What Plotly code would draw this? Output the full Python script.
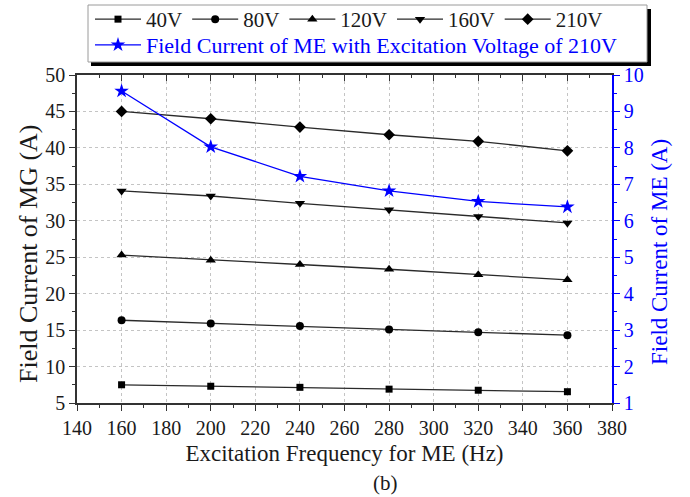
import plotly.graph_objects as go

# Excitation frequency of ME (Hz)
freq = [160, 200, 240, 280, 320, 360]

# Field current of MG (A) for each excitation voltage
mg_40v = [7.5, 7.3, 7.15, 6.9, 6.75, 6.55]
mg_80v = [16.35, 15.9, 15.55, 15.1, 14.7, 14.3]
mg_120v = [25.3, 24.6, 24.0, 23.35, 22.6, 21.9]
mg_160v = [34.1, 33.4, 32.4, 31.5, 30.6, 29.7]
mg_210v = [45.0, 44.0, 42.85, 41.8, 40.9, 39.6]

# Field current of ME (A) at 210 V excitation
me_210v = [9.56, 8.03, 7.22, 6.82, 6.53, 6.38]

series_names = ["40V", "80V", "120V", "160V", "210V"]
series_values = [mg_40v, mg_80v, mg_120v, mg_160v, mg_210v]
series_symbols = ["square", "circle", "triangle-up", "triangle-down", "diamond"]
series_sizes = [7, 8, 9, 9, 9]

FONT = "'Times New Roman', 'Liberation Serif', 'DejaVu Serif', serif"
BLUE = "#0000ff"
INK = "#1a1a1a"

W, H = 690, 497
ML, MR, MT, MB = 77, 78, 75, 94
PW, PH = W - ML - MR, H - MT - MB


def px(xpix):
    return (xpix - ML) / PW


def py(ypix):
    return 1 - (ypix - MT) / PH


fig = go.Figure()

for name, vals, sym, sz in zip(series_names, series_values, series_symbols, series_sizes):
    fig.add_trace(go.Scatter(
        x=freq, y=vals, name=name, mode="lines+markers",
        line=dict(color="#2a2a2a", width=1.3),
        marker=dict(symbol=sym, size=sz, color="black"),
        xaxis="x", yaxis="y", legend="legend",
    ))

fig.add_trace(go.Scatter(
    x=freq, y=me_210v, name="Field Current of ME with Excitation Voltage of 210V",
    mode="lines+markers",
    line=dict(color=BLUE, width=1.3),
    marker=dict(symbol="star", size=11, color=BLUE),
    xaxis="x", yaxis="y2", legend="legend2",
))

# invisible trace that keeps the top tick axis drawn
fig.add_trace(go.Scatter(x=[freq[0]], y=[mg_40v[0]], xaxis="x2", yaxis="y",
                         mode="markers", marker=dict(opacity=0),
                         showlegend=False, hoverinfo="skip"))

grid = dict(showgrid=True, gridcolor="#c4c4c4", griddash="dot", gridwidth=1)
tickfont = dict(family=FONT, size=20, color=INK)

legend_common = dict(
    orientation="h", xanchor="left", yanchor="top",
    bgcolor="rgba(0,0,0,0)", borderwidth=0, tracegroupgap=0,
)

fig.update_layout(
    width=W, height=H,
    margin=dict(l=ML, r=MR, t=MT, b=MB, autoexpand=False),
    paper_bgcolor="white", plot_bgcolor="white",
    font=dict(family=FONT, size=20, color=INK),
    showlegend=True,
    xaxis=dict(
        range=[140, 380], dtick=20, tick0=140,
        ticks="outside", ticklen=6, tickwidth=1.3, tickcolor="#333",
        minor=dict(ticks="outside", ticklen=3, dtick=10, tickcolor="#333", showgrid=False),
        showline=True, linecolor="#333", linewidth=1.5, mirror=True,
        zeroline=False, tickfont=tickfont,
        title=dict(text="Excitation Frequency for ME (Hz)", standoff=7,
                   font=dict(family=FONT, size=23, color=INK)),
        **grid,
    ),
    xaxis2=dict(
        range=[140, 380], dtick=20, tick0=140, overlaying="x", side="top", anchor="y",
        ticks="inside", ticklen=6, tickwidth=1.3, tickcolor="#333",
        minor=dict(ticks="inside", ticklen=3, dtick=10, tickcolor="#333"),
        showticklabels=False, showgrid=False, zeroline=False, showline=False,
    ),
    yaxis=dict(
        range=[5, 50], dtick=5, tick0=5,
        ticks="outside", ticklen=6, tickwidth=1.3, tickcolor="#333",
        minor=dict(ticks="outside", ticklen=3, dtick=2.5, tickcolor="#333", showgrid=False),
        showline=True, linecolor="#333", linewidth=1.5,
        zeroline=False, tickfont=tickfont,
        **grid,
    ),
    yaxis2=dict(
        range=[1, 10], dtick=1, tick0=1, overlaying="y", side="right", anchor="x",
        ticks="outside", ticklen=6, tickwidth=1.3, tickcolor=BLUE,
        minor=dict(ticks="outside", ticklen=3, dtick=0.5, tickcolor=BLUE),
        showline=True, linecolor=BLUE, linewidth=1.5,
        showgrid=False, zeroline=False,
        tickfont=dict(family=FONT, size=20, color=BLUE),
    ),
    legend=dict(x=px(90), y=py(-1), itemwidth=46,
                font=dict(family=FONT, size=21, color=INK), **legend_common),
    legend2=dict(x=px(90), y=py(24), itemwidth=46,
                 font=dict(family=FONT, size=22, color=BLUE), **legend_common),
    shapes=[
        # drop shadow and frame behind the legends
        dict(type="rect", xref="paper", yref="paper", layer="above",
             x0=px(91), x1=px(651), y0=py(66), y1=py(9),
             fillcolor="black", line=dict(width=0)),
        dict(type="rect", xref="paper", yref="paper", layer="above",
             x0=px(88), x1=px(647), y0=py(62), y1=py(5),
             fillcolor="white", line=dict(color="#9a9a9a", width=1)),
    ],
    annotations=[
        # vertical axis titles
        dict(text="Field Current of MG (A)", xref="paper", yref="paper",
             x=px(28), y=py(254), textangle=-90, showarrow=False,
             xanchor="center", yanchor="middle",
             font=dict(family=FONT, size=26, color=INK)),
        dict(text="Field Current of ME (A)", xref="paper", yref="paper",
             x=px(659), y=py(252), textangle=-90, showarrow=False,
             xanchor="center", yanchor="middle",
             font=dict(family=FONT, size=23, color=BLUE)),
        dict(text="(b)", xref="paper", yref="paper", x=px(385), y=py(483),
             showarrow=False, yanchor="middle",
             font=dict(family=FONT, size=21, color=INK)),
    ],
)

fig.write_html("out.html")
